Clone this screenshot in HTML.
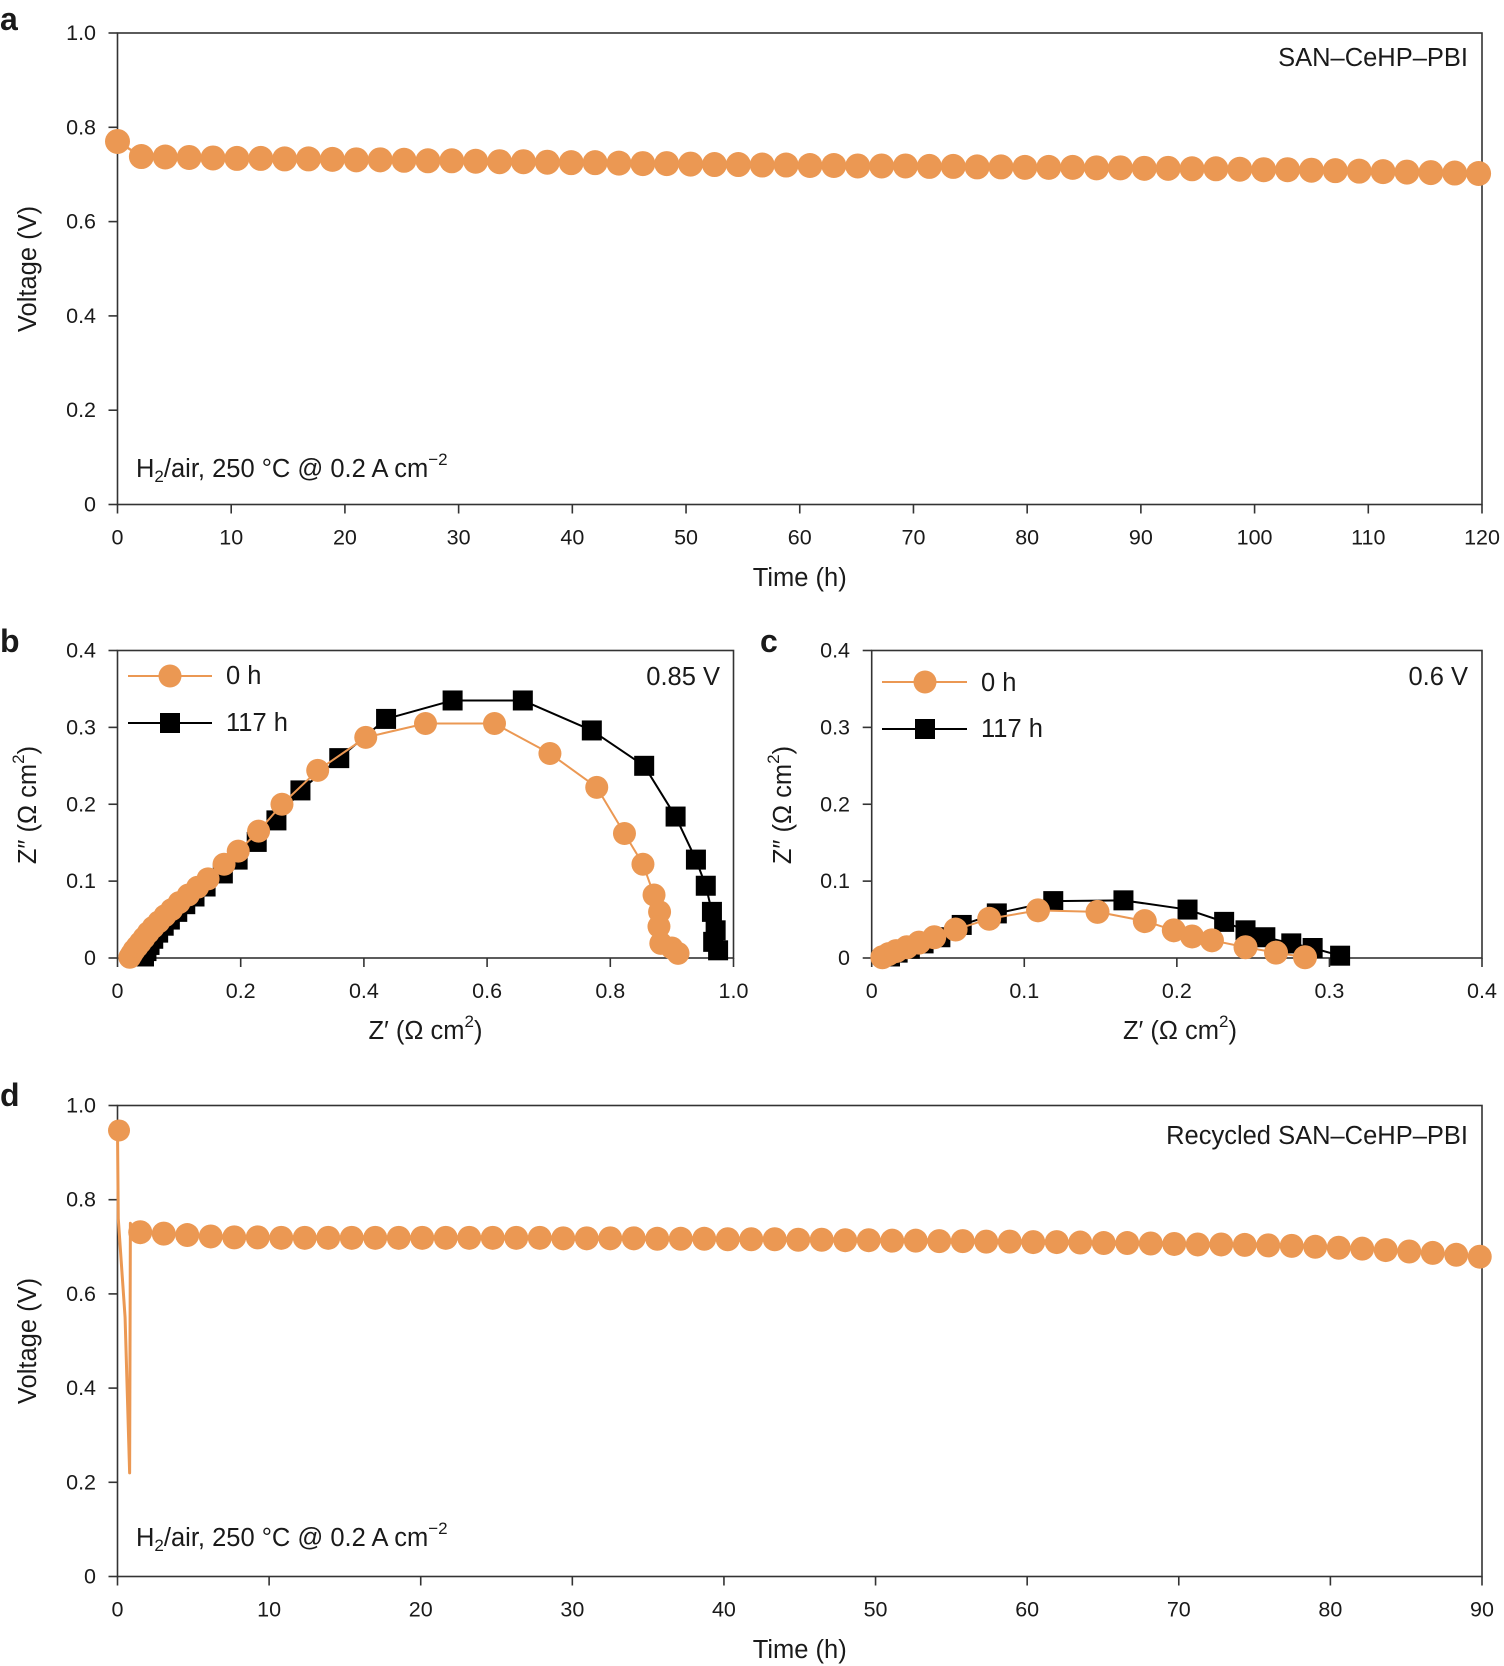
<!DOCTYPE html>
<html><head><meta charset="utf-8">
<style>
html,body{margin:0;padding:0;background:#fff;}
svg{display:block;font-family:"Liberation Sans",sans-serif;}
text{fill:#1a1a1a;}
</style></head>
<body>
<svg id="fig" width="1504" height="1666" viewBox="0 0 1504 1666" xmlns="http://www.w3.org/2000/svg"></svg>
<script>
// ---- Panel a data ----
const aTimes0 = [0];
const aVolts0 = [0.77];
const aTimes = [2.1,4.2,6.3,8.4,10.5,12.6,14.7,16.8,18.9,21,23.1,25.2,27.3,29.4,31.5,33.6,35.7,37.8,39.9,42,44.1,46.2,48.3,50.4,52.5,54.6,56.7,58.8,60.9,63,65.1,67.2,69.3,71.4,73.5,75.6,77.7,79.8,81.9,84,86.1,88.2,90.3,92.4,94.5,96.6,98.7,100.8,102.9,105,107.1,109.2,111.3,113.4,115.5,117.6,119.7];
const aVolts = [0.738,0.737,0.736,0.735,0.734,0.734,0.733,0.733,0.732,0.731,0.731,0.730,0.729,0.729,0.728,0.727,0.727,0.726,0.725,0.725,0.724,0.723,0.723,0.722,0.721,0.721,0.720,0.720,0.719,0.719,0.718,0.718,0.718,0.717,0.717,0.716,0.716,0.715,0.715,0.715,0.714,0.714,0.713,0.713,0.712,0.712,0.711,0.710,0.710,0.709,0.708,0.707,0.706,0.705,0.704,0.703,0.702];
const aXTicks = [0,10,20,30,40,50,60,70,80,90,100,110,120];
const vTicks = [0,0.2,0.4,0.6,0.8,1.0];
const vTickLabels = ["0","0.2","0.4","0.6","0.8","1.0"];

// ---- Panel b data ----
const bOrangeX = [0.02,0.023,0.027,0.032,0.037,0.043,0.05,0.058,0.067,0.077,0.088,0.10,0.115,0.13,0.147,0.173,0.196,0.229,0.267,0.325,0.403,0.50,0.612,0.702,0.778,0.823,0.853,0.871,0.88,0.879,0.882,0.90,0.91];
const bOrangeY = [0.001,0.005,0.01,0.015,0.02,0.026,0.033,0.04,0.047,0.055,0.063,0.072,0.082,0.092,0.103,0.122,0.139,0.165,0.20,0.244,0.287,0.305,0.305,0.266,0.222,0.162,0.122,0.082,0.06,0.041,0.019,0.013,0.006];
const bBlackX = [0.043,0.047,0.052,0.058,0.066,0.075,0.085,0.097,0.11,0.125,0.143,0.171,0.195,0.226,0.258,0.297,0.36,0.436,0.544,0.658,0.77,0.855,0.906,0.939,0.955,0.965,0.971,0.967,0.975];
const bBlackY = [0.002,0.009,0.017,0.025,0.033,0.042,0.05,0.06,0.07,0.08,0.093,0.11,0.128,0.151,0.179,0.218,0.26,0.311,0.335,0.335,0.296,0.25,0.184,0.128,0.094,0.06,0.036,0.021,0.01];
const bXTicks = [0,0.2,0.4,0.6,0.8,1.0];
const bXTickLabels = ["0","0.2","0.4","0.6","0.8","1.0"];
const zTicks = [0,0.1,0.2,0.3,0.4];
const zTickLabels = ["0","0.1","0.2","0.3","0.4"];

// ---- Panel c data ----
const cOrangeX = [0.007,0.011,0.016,0.023,0.031,0.041,0.055,0.077,0.109,0.148,0.179,0.198,0.21,0.223,0.245,0.265,0.284];
const cOrangeY = [0.001,0.005,0.009,0.014,0.02,0.027,0.037,0.051,0.062,0.06,0.048,0.036,0.028,0.023,0.014,0.007,0.001];
const cBlackX = [0.012,0.017,0.025,0.034,0.045,0.059,0.082,0.119,0.165,0.207,0.231,0.245,0.258,0.275,0.289,0.307];
const cBlackY = [0.002,0.007,0.012,0.019,0.027,0.043,0.058,0.074,0.075,0.063,0.047,0.036,0.027,0.019,0.013,0.003];
const cXTicks = [0,0.1,0.2,0.3,0.4];
const cXTickLabels = ["0","0.1","0.2","0.3","0.4"];

// ---- Panel d data ----
const dSpikeT = [0,0.05,0.5,0.8,0.85,0.9];
const dSpikeV = [0.95,0.76,0.55,0.22,0.75,0.74];
const dTimes0 = [0.1];
const dVolts0 = [0.947];
const dTimes = [1.5,3.05,4.6,6.15,7.7,9.25,10.8,12.35,13.9,15.45,17,18.55,20.1,21.65,23.2,24.75,26.3,27.85,29.4,30.95,32.5,34.05,35.6,37.15,38.7,40.25,41.8,43.35,44.9,46.45,48,49.55,51.1,52.65,54.2,55.75,57.3,58.85,60.4,61.95,63.5,65.05,66.6,68.15,69.7,71.25,72.8,74.35,75.9,77.45,79,80.55,82.1,83.65,85.2,86.75,88.3,89.85];
const dVolts = [0.731,0.728,0.725,0.722,0.72,0.72,0.719,0.719,0.719,0.719,0.719,0.719,0.719,0.719,0.719,0.719,0.719,0.719,0.718,0.718,0.718,0.718,0.717,0.717,0.717,0.716,0.716,0.716,0.715,0.715,0.714,0.714,0.713,0.713,0.712,0.712,0.711,0.711,0.71,0.71,0.709,0.708,0.708,0.707,0.706,0.705,0.705,0.704,0.703,0.702,0.7,0.698,0.696,0.693,0.69,0.687,0.683,0.679];
const dXTicks = [0,10,20,30,40,50,60,70,80,90];

const ORANGE = "#EB9853";
const NS = "http://www.w3.org/2000/svg";
const svg = document.getElementById("fig");
const TICK = 21.5, TITLE = 25.5;
function el(tag, attrs, parent){
  const e = document.createElementNS(NS, tag);
  for (const k in attrs) e.setAttribute(k, attrs[k]);
  (parent||svg).appendChild(e);
  return e;
}
function txt(s, x, y, anchor, size, parent, weight){
  const t = el("text", {x:x, y:y, "text-anchor":anchor, "font-size":size, "dominant-baseline":"central"}, parent);
  if (weight) t.setAttribute("font-weight", weight);
  t.textContent = s;
  return t;
}
function scale(d0,d1,r0,r1){ return v => r0 + (v-d0)/(d1-d0)*(r1-r0); }

function axes(g, L, T, R, B, xs, ys, xt, xtl, yt, ytl, labelRight){
  const frame = el("rect", {x:L, y:T, width:R-L, height:B-T, fill:"none", stroke:"#333", "stroke-width":1.6}, g);
  
  
  xt.forEach((v,i)=>{
    const x = xs(v);
    el("line", {x1:x, y1:B, x2:x, y2:B+9, stroke:"#333", "stroke-width":1.6}, g);
    const t = txt(xtl[i], x, B+33, "middle", TICK, g);
    
    
  });
  yt.forEach((v,i)=>{
    const y = ys(v);
    el("line", {x1:L-9, y1:y, x2:L, y2:y, stroke:"#333", "stroke-width":1.6}, g);
    const t = txt(ytl[i], labelRight, y, "end", TICK, g);
    
    
  });
}
function line(g, X, Y, xs, ys, color, w){
  const pts = X.map((v,i)=> xs(v)+","+ys(Y[i])).join(" ");
  return el("polyline", {points:pts, fill:"none", stroke:color, "stroke-width":w, "stroke-linejoin":"round"}, g);
}
function circles(g, X, Y, xs, ys, r, name){
  X.forEach((v,i)=>{
    const c = el("circle", {cx:xs(v), cy:ys(Y[i]), r:r, fill:ORANGE}, g);
    
    
  });
}
function squares(g, X, Y, xs, ys, s, name){
  X.forEach((v,i)=>{
    const r = el("rect", {x:xs(v)-s/2, y:ys(Y[i])-s/2, width:s, height:s, fill:"#000"}, g);
    
    
  });
}
function ytitle(g, s, x, y, parts){
  const t = el("text", {x:0, y:0, "text-anchor":"middle", "font-size":TITLE, "dominant-baseline":"central", transform:`translate(${x},${y}) rotate(-90)`}, g);
  t.innerHTML = parts || s;
  return t;
}
const SUP = '<tspan font-size="17" dy="-10">2</tspan><tspan dy="10">)</tspan>';
const COND = 'H<tspan font-size="17" dy="7">2</tspan><tspan dy="-7">/air, 250 °C @ 0.2 A cm</tspan><tspan font-size="17" dy="-10">−2</tspan>';

// ===== Panel a =====
const ga = el("g", {});


const aL=117.5, aR=1482, aT=33, aB=504.5;
const axs = scale(0,120,aL,aR), ays = scale(0,1,aB,aT);
axes(ga, aL,aT,aR,aB, axs, ays, aXTicks, aXTicks.map(String), vTicks, vTickLabels, 96);
const la = line(ga, aTimes0.concat(aTimes), aVolts0.concat(aVolts), axs, ays, ORANGE, 2.5);


circles(ga, aTimes0.concat(aTimes), aVolts0.concat(aVolts), axs, ays, 12.5, 'voltage-point');
txt("a", 0, 19, "start", 32, ga, "bold");
txt("Time (h)", (aL+aR)/2, 578, "middle", TITLE, ga);
ytitle(ga, "Voltage (V)", 28, 269);
txt("SAN–CeHP–PBI", 1468, 58, "end", TITLE, ga);
(function(){
  const t = el("text", {x:136, y:469, "font-size":TITLE, "dominant-baseline":"central"}, ga);
  t.innerHTML = COND;
  
})();

// ===== Panel b =====
const gb = el("g", {});


const bL=117.5, bR=733.5, bT=650.5, bB=958;
const bxs = scale(0,1,bL,bR), bys = scale(0,0.4,bB,bT);
axes(gb, bL,bT,bR,bB, bxs, bys, bXTicks, bXTickLabels, zTicks, zTickLabels, 96);
line(gb, bBlackX, bBlackY, bxs, bys, "#000", 2);
squares(gb, bBlackX, bBlackY, bxs, bys, 20, 'point-117h');
line(gb, bOrangeX, bOrangeY, bxs, bys, ORANGE, 2);
circles(gb, bOrangeX, bOrangeY, bxs, bys, 11.5, 'point-0h');
txt("b", 0, 641, "start", 32, gb, "bold");
(function(){
  const t = el("text", {x:(bL+bR)/2, y:1031, "text-anchor":"middle", "font-size":TITLE, "dominant-baseline":"central"}, gb);
  t.innerHTML = 'Z′ (Ω cm' + SUP;
  
  ytitle(gb, "", 28, 805, 'Z″ (Ω cm' + SUP);
})();
el("line",{x1:128,y1:676,x2:212,y2:676,stroke:ORANGE,"stroke-width":2},gb);
el("circle",{cx:170,cy:676,r:11.5,fill:ORANGE},gb);
txt("0 h", 226, 676, "start", TITLE, gb);
el("line",{x1:128,y1:723,x2:212,y2:723,stroke:"#000","stroke-width":2},gb);
el("rect",{x:160,y:713,width:20,height:20,fill:"#000"},gb);
txt("117 h", 226, 723, "start", TITLE, gb);
txt("0.85 V", 720, 677, "end", TITLE, gb);

// ===== Panel c =====
const gc = el("g", {});


const cL=871.7, cR=1482, cT=650.5, cB=958;
const cxs = scale(0,0.4,cL,cR), cys = scale(0,0.4,cB,cT);
axes(gc, cL,cT,cR,cB, cxs, cys, cXTicks, cXTickLabels, zTicks, zTickLabels, 850);
line(gc, cBlackX, cBlackY, cxs, cys, "#000", 2);
squares(gc, cBlackX, cBlackY, cxs, cys, 20, 'point-117h');
line(gc, cOrangeX, cOrangeY, cxs, cys, ORANGE, 2);
circles(gc, cOrangeX, cOrangeY, cxs, cys, 12, 'point-0h');
txt("c", 760, 641, "start", 32, gc, "bold");
(function(){
  const t = el("text", {x:1180, y:1031, "text-anchor":"middle", "font-size":TITLE, "dominant-baseline":"central"}, gc);
  t.innerHTML = 'Z′ (Ω cm' + SUP;
  
  ytitle(gc, "", 783, 805, 'Z″ (Ω cm' + SUP);
})();
el("line",{x1:882,y1:682,x2:967,y2:682,stroke:ORANGE,"stroke-width":2},gc);
el("circle",{cx:925,cy:682,r:11.5,fill:ORANGE},gc);
txt("0 h", 981, 683, "start", TITLE, gc);
el("line",{x1:882,y1:729,x2:967,y2:729,stroke:"#000","stroke-width":2},gc);
el("rect",{x:915,y:719,width:20,height:20,fill:"#000"},gc);
txt("117 h", 981, 729, "start", TITLE, gc);
txt("0.6 V", 1468, 677, "end", TITLE, gc);

// ===== Panel d =====
const gd = el("g", {});


const dL=117.5, dR=1482, dT=1105.5, dB=1576.5;
const dxs = scale(0,90,dL,dR), dys = scale(0,1,dB,dT);
axes(gd, dL,dT,dR,dB, dxs, dys, dXTicks, dXTicks.map(String), vTicks, vTickLabels, 96);
line(gd, dSpikeT.concat(dTimes), dSpikeV.concat(dVolts), dxs, dys, ORANGE, 3);
circles(gd, dTimes0, dVolts0, dxs, dys, 11, 'initial-voltage-point');
circles(gd, dTimes, dVolts, dxs, dys, 12, 'voltage-point');
txt("d", 0, 1095, "start", 32, gd, "bold");
txt("Time (h)", (dL+dR)/2, 1650, "middle", TITLE, gd);
ytitle(gd, "Voltage (V)", 28, 1341);
txt("Recycled SAN–CeHP–PBI", 1468, 1136, "end", TITLE, gd);
(function(){
  const t = el("text", {x:136, y:1538, "font-size":TITLE, "dominant-baseline":"central"}, gd);
  t.innerHTML = COND;
  
})();
</script>
</body></html>
